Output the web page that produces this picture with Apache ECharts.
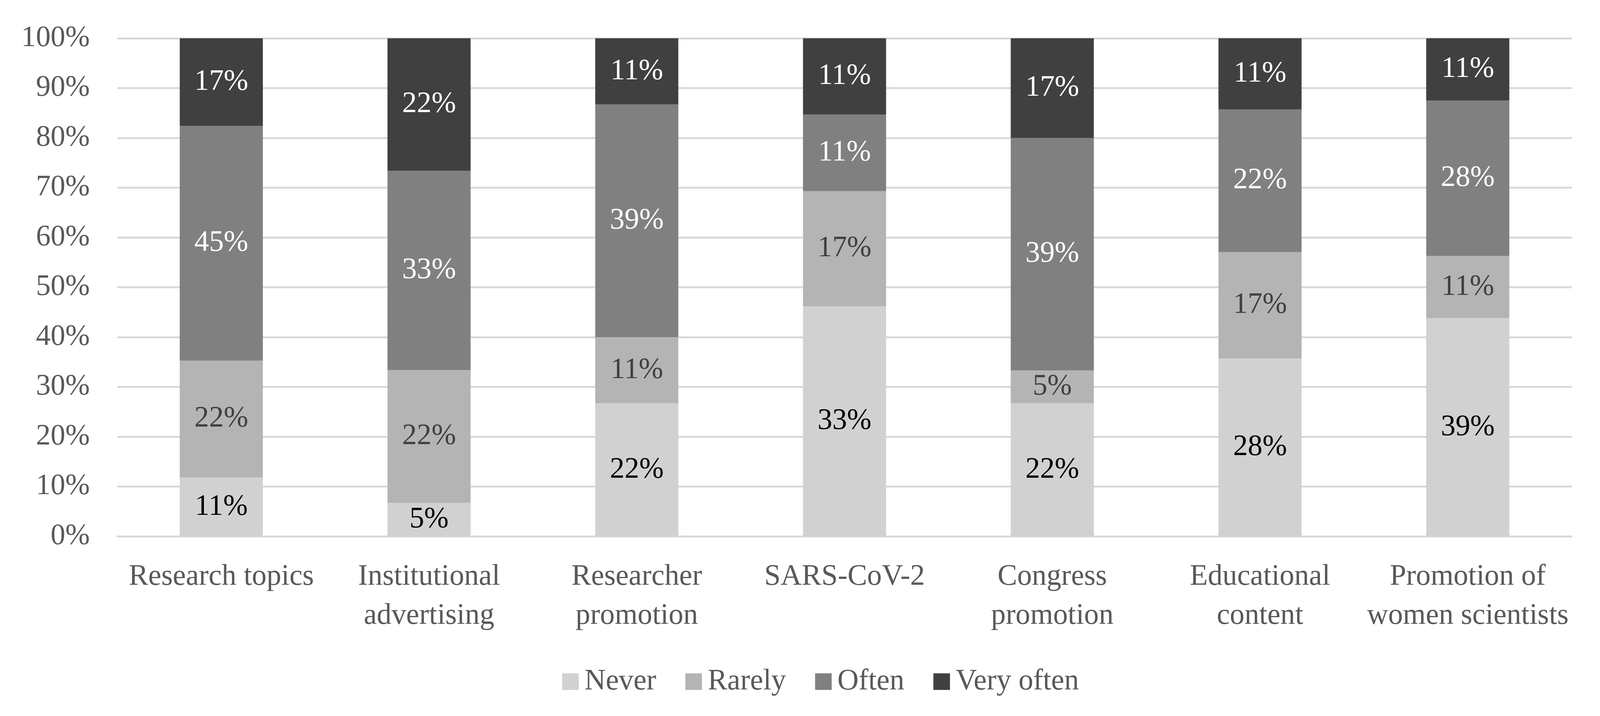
<!DOCTYPE html>
<html>
<head>
<meta charset="utf-8">
<script src="https://cdn.jsdelivr.net/npm/echarts@6/dist/echarts.min.js"></script>
<style>html,body{margin:0;padding:0;background:#fff;overflow:hidden}#c{width:100vw;height:100vh}</style>
</head>
<body>
<div id="c"></div>
<script>
// Categories (x axis)
const categories = ["Research topics", "Institutional\nadvertising", "Researcher\npromotion", "SARS-CoV-2", "Congress\npromotion", "Educational\ncontent", "Promotion of\nwomen scientists"];
const seriesNames = ["Never", "Rarely", "Often", "Very often"];
// Segment heights (share of each bar, %)
const never     = [11.8,  6.7, 26.7, 46.2, 26.7, 35.7, 43.8];
const rarely    = [23.5, 26.7, 13.3, 23.1,  6.6, 21.4, 12.5];
const often     = [47.1, 40.0, 46.7, 15.4, 46.7, 28.6, 31.2];
const veryOften = [17.6, 26.6, 13.3, 15.3, 20.0, 14.3, 12.5];
// Data label texts (%) shown on each segment
const neverLabels     = [11,  5, 22, 33, 22, 28, 39];
const rarelyLabels    = [22, 22, 11, 17,  5, 17, 11];
const oftenLabels     = [45, 33, 39, 11, 39, 22, 28];
const veryOftenLabels = [17, 22, 11, 11, 17, 11, 11];
// Y axis ticks
const yMin = 0, yMax = 100, yStep = 10;

const SX = window.innerWidth / 4401;
const SY = window.innerHeight / 1833;
const SF = Math.sqrt(SX * SY);
const hx = v => v * SX, vy = v => v * SY, f = v => v * SF;
const FONT = '"Liberation Serif", "DejaVu Serif", serif';
const FS = f(78);
const colors = ["#d1d1d1", "#b4b4b4", "#808080", "#404040"];
const labelColors = ["#000000", "#404040", "#ffffff", "#ffffff"];
const values = [never, rarely, often, veryOften];
const labels = [neverLabels, rarelyLabels, oftenLabels, veryOftenLabels];

const chart = echarts.init(document.getElementById('c'), null, {renderer: 'canvas'});
chart.setOption({
  animation: false,
  backgroundColor: '#ffffff',
  textStyle: {fontFamily: FONT},
  grid: {left: hx(323), right: hx(78), top: vy(98), bottom: vy(460), containLabel: false},
  legend: {
    data: seriesNames,
    left: hx(1541),
    top: vy(1740) - f(44),
    itemWidth: f(44),
    itemHeight: f(44),
    itemGap: hx(80),
    icon: 'rect',
    textStyle: {fontFamily: FONT, fontSize: FS, color: '#595959', padding: [0, 0, 0, f(10)], lineHeight: f(88)}
  },
  xAxis: {
    type: 'category',
    data: categories,
    axisLine: {show: true, lineStyle: {color: '#d9d9d9', width: f(5)}},
    axisTick: {show: false},
    axisLabel: {fontFamily: FONT, fontSize: FS, color: '#595959', margin: vy(54), lineHeight: vy(100), interval: 0}
  },
  yAxis: {
    type: 'value',
    min: yMin, max: yMax, interval: yStep,
    axisLine: {show: false},
    axisTick: {show: false},
    splitLine: {lineStyle: {color: '#d9d9d9', width: f(5)}},
    axisLabel: {fontFamily: FONT, fontSize: FS, color: '#595959', margin: hx(76), formatter: '{value}%'}
  },
  series: seriesNames.map((name, i) => ({
    name: name,
    type: 'bar',
    stack: 'total',
    barWidth: '40%',
    itemStyle: {color: colors[i]},
    label: {
      show: true,
      position: 'inside',
      fontFamily: FONT,
      fontSize: FS,
      color: labelColors[i],
      formatter: p => labels[i][p.dataIndex] + '%'
    },
    data: values[i]
  }))
});
</script>
</body>
</html>
